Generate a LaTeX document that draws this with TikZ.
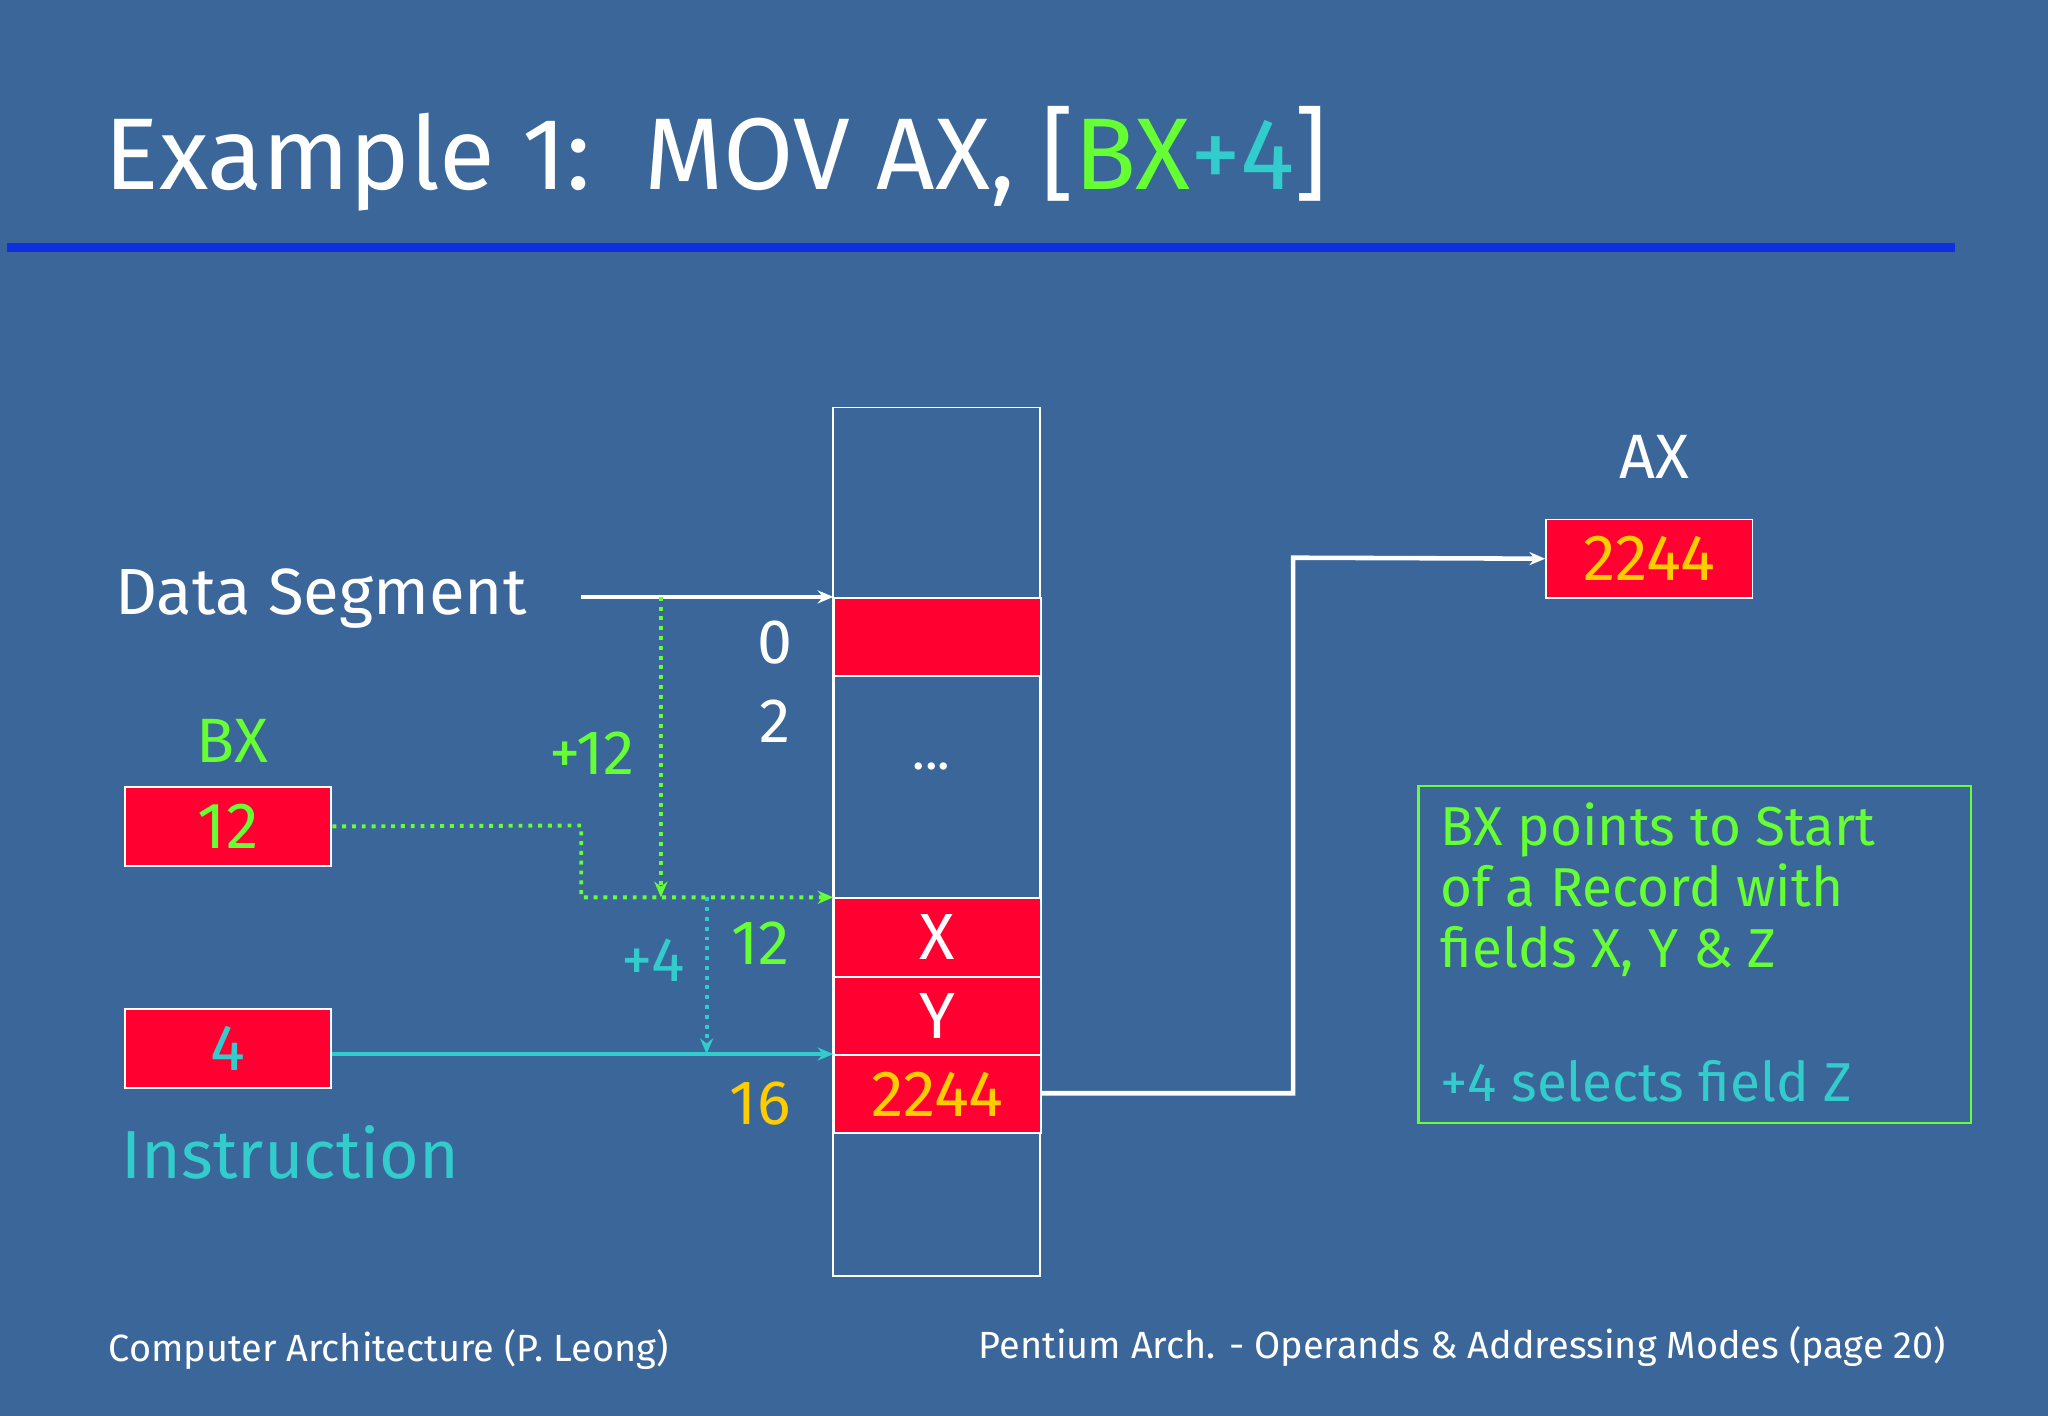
\documentclass[tikz,border=0pt]{standalone}
\usepackage{fontspec}
\usetikzlibrary{arrows.meta}
\setmainfont{Fira Sans}
\definecolor{bg}{HTML}{3A6699}
\definecolor{bline}{HTML}{1030E0}
\definecolor{rd}{HTML}{FF0030}
\definecolor{gr}{HTML}{66FF33}
\definecolor{cy}{HTML}{33CCCC}
\definecolor{yl}{HTML}{FFCC00}
\newcommand{\fs}[1]{\fontsize{#1}{#1}\selectfont}
\begin{document}
\begin{tikzpicture}[x=1pt,y=-1pt,
  cell/.style={draw=white,line width=1.5pt,minimum width=158pt,minimum height=60pt,inner sep=0pt},
  redcell/.style={cell,fill=rd},
  lbl/.style={inner sep=0pt,font=\fs{48}},
  arr/.style={-{Stealth[length=12pt,width=10pt]},line width=3.5pt},
  dot/.style={arr,dash pattern=on 3pt off 4.5pt,line width=3pt}]
\fill[bg] (0,0) rectangle (1568,1084);
\useasboundingbox (0,0) rectangle (1568,1084);
\node[anchor=base west,inner sep=0pt,text=white,font=\fs{78}] (title) at (80,145)
  {Example 1:\ \ MOV AX, [\textcolor{gr}{BX}\textcolor{cy}{+4}]};
\fill[bline] (5,186) rectangle (1497,193);
% memory
\draw[white,line width=1.5pt] (638,312) rectangle (796,977);
\node[redcell,anchor=north west] (m0) at (638,457) {};
\node[cell,anchor=north west,minimum height=170pt] (mdots) at (638,517) {};
\node[text=white,font=\fs{40}] at (713,587) {...};
\node[redcell,anchor=north west,text=white,font=\fs{50}] (mx) at (638,687) {X};
\node[redcell,anchor=north west,text=white,font=\fs{50}] (my) at (638,747) {Y};
\node[redcell,anchor=north west,text=yl,font=\fs{50}] (mz) at (638,807) {2244};
\coordinate (ds) at (638,457);
\coordinate (xl) at (638,687);
\coordinate (zl) at (638,807);
% left
\node[lbl,text=white,anchor=west,font=\fs{50}] (dslbl) at (88,458) {Data Segment};
\coordinate (dsa) at (445,457);
\draw[arr,white] (dsa) -- (ds);
\node[lbl,text=white] (o0) at (593,492) {0};
\node[lbl,text=white] (o2) at (593,552) {2};
\node[lbl,text=gr] (bxl) at (178,567) {BX};
\node[redcell,anchor=north west,text=gr,font=\fs{50}] (bx) at (95,602) {12};
\node[lbl,text=gr] (p12) at (453,577) {+12};
\draw[dot,gr] (bx.east) -- (445,632) -- (445,687) -- (xl);
\draw[dot,gr] (506,457) -- (506,687);
\node[lbl,text=cy] (p4) at (500,735) {+4};
\node[lbl,text=gr] (o12) at (582,722) {12};
\draw[dot,cy] (541,687) -- (541,807);
\node[redcell,anchor=north west,text=cy,font=\fs{50}] (four) at (95,772) {4};
\draw[arr,cy] (four.east |- zl) -- (zl);
\node[lbl,text=yl] (o16) at (582,845) {16};
\node[lbl,text=cy,anchor=west,font=\fs{52}] (ins) at (93,882) {Instruction};
% right
\node[lbl,text=white] (axl) at (1267,350) {AX};
\node[redcell,anchor=north west,text=yl,font=\fs{50}] (ax) at (1183,397) {2244};
\draw[arr,white] (mz.east |- 0,837) -- (990,837) -- (990,427) -- (ax.west);
\draw[gr,line width=1.8pt] (1086,602) rectangle (1509,860);
\node[anchor=north west,inner sep=0pt,align=left,text=gr,font=\fs{42}] (note) at (1103,614)
  {BX points to Start\\[5pt] of a Record with\\[5pt] fields X, Y \& Z};
\node[anchor=west,inner sep=0pt,text=cy,font=\fs{42}] (note2) at (1103,828) {+4 selects field Z};
% footer
\node[anchor=west,inner sep=0pt,text=white,font=\fs{29}] (f1) at (83,1033) {Computer Architecture (P. Leong)};
\node[anchor=east,inner sep=0pt,text=white,font=\fs{29}] (f2) at (1490,1031) {Pentium Arch. - Operands \& Addressing Modes (page 20)};
\end{tikzpicture}
\end{document}
